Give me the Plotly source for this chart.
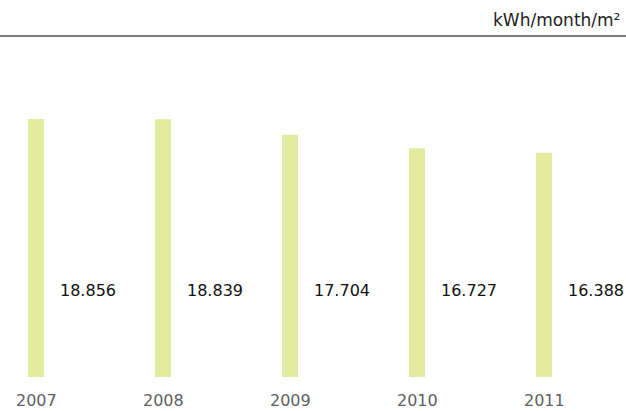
import plotly.graph_objects as go

years = ["2007", "2008", "2009", "2010", "2011"]
values = [18.856, 18.839, 17.704, 16.727, 16.388]
value_labels = ["18.856", "18.839", "17.704", "16.727", "16.388"]
unit = "kWh/month/m²"

pos = list(range(len(years)))
PH = 341  # plot height in px

fig = go.Figure()
fig.add_trace(go.Bar(
    x=pos, y=values, width=0.126,
    marker=dict(color="#e2eca0", line=dict(width=0)),
    hoverinfo="skip",
))

for p, lab in zip(pos, value_labels):
    fig.add_annotation(x=p + 0.175, y=6.3, xref="x", yref="y", text=lab,
                       showarrow=False, xanchor="left", yanchor="middle",
                       font=dict(family="DejaVu Sans", size=16, color="#111111"))

for p, yr in zip(pos, years):
    fig.add_annotation(x=p, y=-23 / PH, xref="x", yref="paper", text=yr,
                       showarrow=False, xanchor="center", yanchor="middle",
                       font=dict(family="DejaVu Sans", size=16, color="#5f5f5f"))

fig.add_annotation(x=1 - 4 / 626, y=1 + 16 / PH, xref="paper", yref="paper", text=unit,
                   showarrow=False, xanchor="right", yanchor="middle",
                   font=dict(family="DejaVu Sans", size=17, color="#222222"))

fig.add_shape(type="line", xref="paper", yref="paper", x0=0, x1=1, y0=1, y1=1,
              line=dict(color="#555555", width=1.5))

fig.update_layout(
    width=626, height=411,
    margin=dict(l=0, r=0, t=36, b=34, pad=0),
    paper_bgcolor="white", plot_bgcolor="white",
    showlegend=False,
    xaxis=dict(range=[-36/127, -36/127 + 626/127], visible=False, fixedrange=True),
    yaxis=dict(range=[0, PH/13.68], visible=False, fixedrange=True),
)

fig.write_html("out.html", config={"displayModeBar": False},
               post_script="document.body.style.margin='0';document.body.style.padding='0';document.body.style.overflow='hidden';")
